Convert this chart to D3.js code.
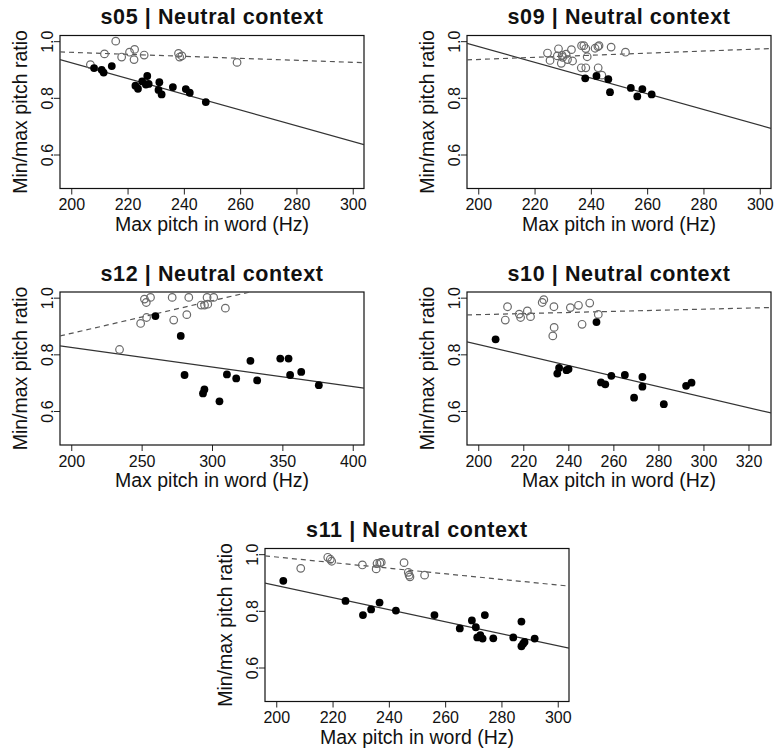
<!DOCTYPE html>
<html><head><meta charset="utf-8">
<script src="https://cdn.jsdelivr.net/npm/d3@7"></script>
<style>
body{margin:0;background:#fff;}
text{font-family:"Liberation Sans",Arial,Helvetica,sans-serif;fill:#111;}
</style></head>
<body><svg id="c" width="775" height="751"></svg>
<script>
// ---------- data ----------
const panelIds = ["s05","s09","s12","s10","s11"];
const panelTitles = ["s05 | Neutral context","s09 | Neutral context","s12 | Neutral context","s10 | Neutral context","s11 | Neutral context"];
const xLabel = "Max pitch in word (Hz)";
const yLabel = "Min/max pitch ratio";
const yLimits = [0.5, 1.0];
const yTicks = [0.6, 0.8, 1.0];

const xLimits = {s05:[200,300], s09:[200,300], s12:[200,400], s10:[200,325], s11:[200,300]};
const xTicks = {
  s05:[200,220,240,260,280,300],
  s09:[200,220,240,260,280,300],
  s12:[200,250,300,350,400],
  s10:[200,220,240,260,280,300,320],
  s11:[200,220,240,260,280,300]
};

// open circles: [max pitch, ratio]
const s05Open = [[215.8,1.000],[211.8,0.955],[206.8,0.917],[217.9,0.944],[220.7,0.961],[222.5,0.971],[222.3,0.935],[225.9,0.951],[238.1,0.957],[238.5,0.944],[239.3,0.948],[258.9,0.925]];
const s05Filled = [[208.1,0.905],[210.8,0.899],[211.5,0.889],[214.4,0.912],[222.8,0.843],[223.7,0.832],[225.2,0.858],[227.0,0.877],[226.5,0.847],[227.5,0.849],[231.3,0.855],[231.0,0.828],[232.1,0.812],[236.1,0.838],[240.7,0.831],[242.1,0.818],[247.8,0.785]];

const s09Open = [[224.6,0.958],[225.5,0.932],[228.5,0.973],[228.1,0.948],[229.5,0.922],[230.0,0.943],[231.2,0.954],[231.7,0.935],[233.1,0.970],[233.5,0.930],[236.7,0.984],[237.5,0.984],[238.2,0.974],[238.7,0.945],[236.6,0.906],[238.2,0.906],[241.5,0.975],[242.5,0.981],[242.9,0.984],[242.6,0.906],[243.9,0.880],[247.2,0.979],[252.3,0.961],[229.8,0.950]];
const s09Filled = [[238.0,0.869],[242.0,0.877],[246.2,0.866],[246.8,0.820],[254.2,0.835],[256.5,0.805],[258.3,0.831],[261.6,0.812]];

const s12Open = [[234.3,0.817],[249.3,0.909],[253.5,0.930],[252.0,0.995],[253.3,0.983],[256.3,1.001],[272.8,0.921],[271.7,1.001],[282.1,0.940],[283.5,1.001],[292.3,0.974],[294.7,0.974],[297.0,0.977],[296.5,1.001],[301.2,1.001],[309.5,0.963]];
const s12Filled = [[259.8,0.935],[277.8,0.865],[280.5,0.727],[293.6,0.662],[294.6,0.676],[305.3,0.634],[310.6,0.729],[317.2,0.715],[327.3,0.777],[332.1,0.708],[348.5,0.785],[354.4,0.785],[355.5,0.727],[363.4,0.738],[375.9,0.691]];

const s10Open = [[213.0,0.968],[212.0,0.921],[218.2,0.942],[218.8,0.930],[221.8,0.953],[223.2,0.933],[228.4,0.983],[229.1,0.993],[233.6,0.968],[233.7,0.895],[233.1,0.865],[240.9,0.965],[244.5,0.973],[246.1,0.906],[249.5,0.981],[253.3,0.941]];
const s10Filled = [[207.7,0.853],[235.1,0.732],[235.9,0.752],[239.2,0.744],[240.1,0.748],[252.5,0.914],[254.5,0.701],[256.4,0.694],[259.1,0.724],[265.1,0.727],[269.2,0.647],[272.9,0.720],[272.9,0.686],[282.4,0.624],[292.3,0.689],[294.7,0.700]];

const s11Open = [[208.7,0.950],[218.3,0.989],[219.2,0.982],[219.7,0.975],[230.6,0.962],[235.5,0.948],[235.8,0.967],[236.8,0.969],[237.3,0.971],[245.4,0.970],[246.9,0.936],[247.2,0.926],[247.5,0.920],[252.7,0.926]];
const s11Filled = [[202.5,0.906],[224.6,0.835],[230.8,0.785],[233.7,0.805],[236.7,0.829],[242.5,0.801],[256.2,0.785],[265.2,0.738],[269.5,0.766],[270.9,0.742],[271.4,0.706],[272.5,0.714],[273.3,0.702],[274.1,0.785],[277.1,0.703],[284.2,0.706],[287.1,0.762],[287.1,0.675],[287.7,0.684],[288.2,0.690],[291.8,0.702]];

// fitted lines: [intercept, slope]
const solidFits = {s05:[1.4795,-0.002778], s09:[1.5366,-0.002778], s12:[0.9625,-0.00069], s10:[1.207,-0.00186], s11:[1.3156,-0.00213]};
const dashedFits = {s05:[1.031,-0.000352], s09:[0.8615,0.00037], s12:[0.644,0.00115], s10:[0.9012,0.000194], s11:[1.1876,-0.000988]};

const openData = {s05:s05Open, s09:s09Open, s12:s12Open, s10:s10Open, s11:s11Open};
const filledData = {s05:s05Filled, s09:s09Filled, s12:s12Filled, s10:s10Filled, s11:s11Filled};

// ---------- layout ----------
const panelPos = {s05:[60,35.5], s09:[467,35.5], s12:[60,292], s10:[467,292], s11:[265,548.5]};
const W = 304, H = 153;

const svg = d3.select("#c");
const ext = (lim) => { const d = (lim[1]-lim[0])*0.04; return [lim[0]-d, lim[1]+d]; };

panelIds.forEach((id, i) => {
  const [left, top] = panelPos[id];
  const g = svg.append("g").attr("transform", `translate(${left},${top})`);
  const x = d3.scaleLinear().domain(ext(xLimits[id])).range([0, W]);
  const y = d3.scaleLinear().domain(ext(yLimits)).range([H, 0]);

  g.append("clipPath").attr("id", "clip-"+id)
    .append("rect").attr("width", W).attr("height", H);

  // axes
  const xa = g.append("g").attr("transform", `translate(0,${H})`)
    .call(d3.axisBottom(x).tickValues(xTicks[id]).tickSize(6).tickSizeOuter(0).tickFormat(d3.format("d")));
  xa.select(".domain").remove();
  xa.selectAll("line").attr("stroke", "#222");
  xa.selectAll("text").attr("font-size", 16).attr("dy", null).attr("y", 21.5).attr("fill", "#111");

  const ya = g.append("g")
    .call(d3.axisLeft(y).tickValues(yTicks).tickSize(6).tickSizeOuter(0).tickFormat(d3.format(".1f")));
  ya.select(".domain").remove();
  ya.selectAll("line").attr("stroke", "#222");
  ya.selectAll("text").attr("font-size", 16).attr("x", null).attr("dy", null)
    .attr("transform", "translate(-7,0) rotate(-90)")
    .attr("text-anchor", "middle").attr("y", 0).attr("fill", "#111");

  // box
  g.append("rect").attr("width", W).attr("height", H)
    .attr("fill", "none").attr("stroke", "#111").attr("stroke-width", 1.2);

  // fit lines
  const xd = x.domain();
  const lineG = g.append("g").attr("clip-path", `url(#clip-${id})`);
  const drawFit = (fit, dash, col) => {
    lineG.append("line")
      .attr("x1", x(xd[0])).attr("y1", y(fit[0] + fit[1]*xd[0]))
      .attr("x2", x(xd[1])).attr("y2", y(fit[0] + fit[1]*xd[1]))
      .attr("stroke", col).attr("stroke-width", 1.2)
      .attr("stroke-dasharray", dash);
  };
  drawFit(solidFits[id], null, "#333");
  drawFit(dashedFits[id], "5,4", "#555");

  // points
  lineG.selectAll("circle.o").data(openData[id]).join("circle")
    .attr("class", "o")
    .attr("cx", d => x(d[0])).attr("cy", d => y(d[1])).attr("r", 3.8)
    .attr("fill", "none").attr("stroke", "#6a6a6a").attr("stroke-width", 1.2);
  lineG.selectAll("circle.f").data(filledData[id]).join("circle")
    .attr("class", "f")
    .attr("cx", d => x(d[0])).attr("cy", d => y(d[1])).attr("r", 3.9)
    .attr("fill", "#000");

  // labels
  g.append("text").attr("x", W/2).attr("y", -11.5).attr("text-anchor", "middle")
    .attr("font-size", 21.5).attr("font-weight", "bold").attr("letter-spacing", 0.6)
    .text(panelTitles[i]);
  g.append("text").attr("x", W/2).attr("y", H + 42).attr("text-anchor", "middle")
    .attr("font-size", 19.5).text(xLabel);
  g.append("text").attr("transform", `translate(-33,${H/2}) rotate(-90)`)
    .attr("text-anchor", "middle").attr("font-size", 19.5).text(yLabel);
});
</script></body></html>
